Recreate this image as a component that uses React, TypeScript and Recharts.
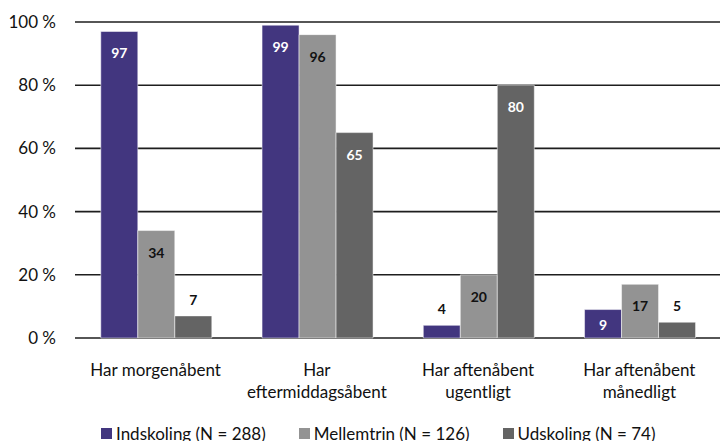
import { BarChart, Bar, XAxis, YAxis, CartesianGrid, Legend, LabelList } from 'recharts';

const categories = ['Har morgenåbent', 'Har\neftermiddagsåbent', 'Har aftenåbent\nugentligt', 'Har aftenåbent\nmånedligt'];
const indskoling = [97, 99, 4, 9];
const mellemtrin = [34, 96, 20, 17];
const udskoling = [7, 65, 80, 5];
const yTicks = [0, 20, 40, 60, 80, 100];

const series = [
  { key: 'indskoling', name: 'Indskoling (N = 288)', color: '#42367f', text: '#ffffff' },
  { key: 'mellemtrin', name: 'Mellemtrin (N = 126)', color: '#939393', text: '#111111' },
  { key: 'udskoling', name: 'Udskoling (N = 74)', color: '#646464', text: '#ffffff' },
];

const data = categories.map((c, i) => ({
  name: c,
  indskoling: indskoling[i],
  mellemtrin: mellemtrin[i],
  udskoling: udskoling[i],
}));

const FONT = 'Lato, sans-serif';

function XTick({ x, y, payload }: any) {
  const lines = String(payload.value).split('\n');
  return (
    <text x={x} y={y} textAnchor="middle" fill="#111" fontSize={17} fontFamily={FONT}>
      {lines.map((l, i) => (
        <tspan key={i} x={x} dy={i === 0 ? 30 : 22}>{l}</tspan>
      ))}
    </text>
  );
}

// small bars get their label above, the rest inside near the top
function makeLabel(textColor: string) {
  return (props: any) => {
    const { x, y, width, height, value } = props;
    const cx = x + width / 2;
    let cy: number;
    let fill = textColor;
    if (height < 25) {
      cy = y - 16;
      fill = '#111';
    } else if (height < 44) {
      cy = y + height / 2 + 1;
    } else {
      cy = y + 22;
    }
    return (
      <text x={cx} y={cy} dy={5} textAnchor="middle" fill={fill} fontSize={14} fontWeight={700} fontFamily={FONT}>
        {value}
      </text>
    );
  };
}

function renderLegend() {
  return (
    <div style={{ display: 'flex', gap: 33, paddingLeft: 101, fontFamily: FONT, fontSize: 17, color: '#111' }}>
      {series.map((s) => (
        <div key={s.key} style={{ display: 'flex', alignItems: 'center', gap: 4 }}>
          <span style={{ width: 11, height: 11, background: s.color, display: 'inline-block' }} />
          <span>{s.name}</span>
        </div>
      ))}
    </div>
  );
}

export default function App() {
  return (
    <div style={{ position: 'absolute', left: 0, top: 0, background: '#fff' }}>
      <BarChart width={720} height={441} data={data} margin={{ top: 22, right: 0, left: 0, bottom: 0 }} barCategoryGap="16%" barGap={0}>
        <CartesianGrid vertical={false} stroke="#1e1e1e" strokeWidth={1.6} />
        <XAxis dataKey="name" axisLine={false} tickLine={false} height={80} tick={<XTick />} interval={0} />
        <YAxis
          domain={[0, 100]}
          ticks={yTicks}
          tickFormatter={(v) => `${v} %`}
          axisLine={false}
          tickLine={false}
          tickSize={0}
          tickMargin={19}
          width={75}
          tick={{ fill: '#111', fontSize: 17, fontFamily: FONT }}
        />
        <Legend verticalAlign="bottom" height={23} content={renderLegend} wrapperStyle={{ bottom: -5 }} />
        {series.map((s) => (
          <Bar key={s.key} dataKey={s.key} name={s.name} fill={s.color} stroke="#ffffff" strokeWidth={0.5} isAnimationActive={false}>
            <LabelList dataKey={s.key} content={makeLabel(s.text)} />
          </Bar>
        ))}
      </BarChart>
    </div>
  );
}
